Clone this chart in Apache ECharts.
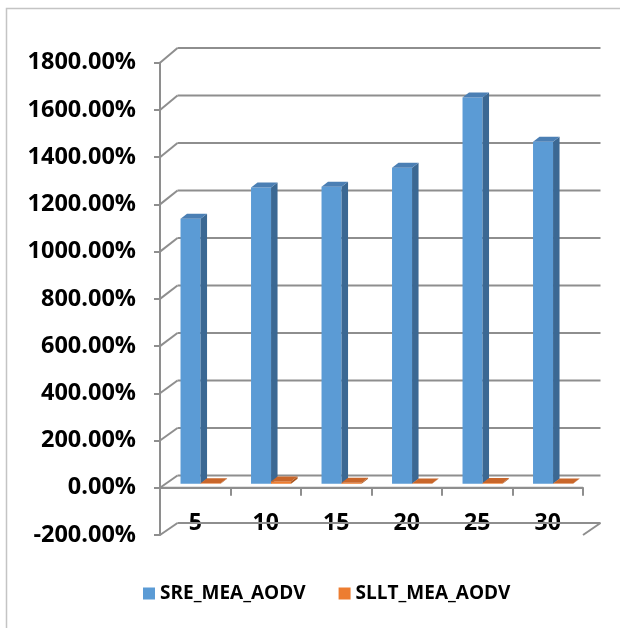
<!DOCTYPE html>
<html>
<head>
<meta charset="utf-8">
<script src="https://cdn.jsdelivr.net/npm/echarts@6/dist/echarts.min.js"></script>
<style>
  html, body { margin: 0; padding: 0; background: #ffffff; }
  #chart { width: 620px; height: 628px; }
</style>
</head>
<body>
<div id="chart"></div>
<script>
// Node counts on the category axis
const categories = ['5', '10', '15', '20', '25', '30'];
// Percentage values per series
const sreMeaAodv = [1122, 1255, 1258, 1338, 1636, 1448];
const slltMeaAodv = [2, 10, 4, 1, 3, 1];
// Value-axis ticks (percent)
const yTicks = [-200, 0, 200, 400, 600, 800, 1000, 1200, 1400, 1600, 1800];

const FONT = "'Open Sans', 'Liberation Sans', sans-serif";
const GRID_COLOR = '#8e8e8e';

// Depth offset of the back wall relative to the front plane
const DEPTH_X = 17.5;
function depthY(y, cs) {
  // slight perspective: the offset grows towards the top
  const t = (cs.y + cs.height - y) / cs.height;
  return 12 + 2.7 * t;
}

// Back-wall gridlines and the diagonal connectors at the left edge
function renderWall(params, api) {
  const cs = params.coordSys;
  const v = api.value(0);
  const y = api.coord([0, v])[1];
  const dy = depthY(y, cs);
  const x0 = cs.x, x1 = cs.x + cs.width;
  const style = { stroke: GRID_COLOR, lineWidth: 2, fill: null };
  const children = [
    { type: 'line', shape: { x1: x0 + DEPTH_X, y1: y - dy, x2: x1 + DEPTH_X, y2: y - dy }, style },
    { type: 'line', shape: { x1: x0, y1: y, x2: x0 + DEPTH_X, y2: y - dy }, style }
  ];
  if (v === 0) {
    children.push({ type: 'line', shape: { x1: x0, y1: y, x2: x1, y2: y }, style });
  }
  if (v === yTicks[0]) {
    children.push({ type: 'line', shape: { x1: x1, y1: y, x2: x1 + DEPTH_X, y2: y - dy }, style });
  }
  return { type: 'group', children };
}

// Category boundary ticks hanging from the front floor edge
function renderFloorTicks(params, api) {
  const idx = api.value(0);
  const c = api.coord([idx, 0]);
  const band = api.size([1, 0])[0];
  const x = Math.round(c[0] + band / 2);
  return {
    type: 'line',
    shape: { x1: x, y1: c[1], x2: x, y2: c[1] + 8 },
    style: { stroke: GRID_COLOR, lineWidth: 2 }
  };
}

// 3D-looking column: front face, right side face and top face
function makeBarRenderer(slot, colors) {
  return function (params, api) {
    const idx = api.value(0);
    const v = api.value(1);
    const base = api.coord([idx, 0]);
    const topPt = api.coord([idx, v]);
    const band = api.size([1, 0])[0];
    const w = band * 0.284;
    const shiftX = 5.3, shiftY = 4;
    const sideX = 6.5, sideY = 5;
    const left = base[0] + shiftX - w + slot * w;
    const right = left + w;
    const yb = base[1] - shiftY;
    const yt = Math.min(topPt[1] - shiftY, yb - 0.01);
    return {
      type: 'group',
      children: [
        { type: 'polygon', shape: { points: [[left, yb], [right, yb], [right, yt], [left, yt]] },
          style: { fill: colors.front } },
        { type: 'polygon', shape: { points: [[right, yb], [right + sideX, yb - sideY], [right + sideX, yt - sideY], [right, yt]] },
          style: { fill: colors.side } },
        { type: 'polygon', shape: { points: [[left, yt], [right, yt], [right + sideX, yt - sideY], [left + sideX, yt - sideY]] },
          style: { fill: colors.top } }
      ]
    };
  };
}

const blue = { front: '#5b9bd5', side: '#3b6893', top: '#4b7fb4' };
const orange = { front: '#ed7d31', side: '#a9541c', top: '#c9662a' };

const chart = echarts.init(document.getElementById('chart'), null, { renderer: 'canvas' });
chart.setOption({
  backgroundColor: '#ffffff',
  animation: false,
  graphic: [{
    type: 'rect',
    shape: { x: 6.5, y: 8.5, width: 800, height: 800 },
    style: { fill: null, stroke: '#c4c4c4', lineWidth: 1.5 },
    silent: true
  }],
  grid: { left: 160, right: 37, top: 62.7, bottom: 93, containLabel: false },
  legend: {
    left: 143,
    top: 584,
    padding: 0,
    icon: 'rect',
    itemWidth: 12,
    itemHeight: 12,
    itemGap: 33,
    textStyle: { fontFamily: FONT, fontSize: 19, fontWeight: 'bold', color: '#000000' },
    data: ['SRE_MEA_AODV', 'SLLT_MEA_AODV']
  },
  xAxis: {
    type: 'category',
    data: categories,
    boundaryGap: true,
    axisLine: { show: true, lineStyle: { color: GRID_COLOR, width: 2 } },
    axisTick: { show: false },
    axisLabel: {
      margin: -12,
      verticalAlign: 'middle',
      fontFamily: FONT, fontSize: 23, fontWeight: 'bold', color: '#000000'
    },
    splitLine: { show: false }
  },
  yAxis: {
    type: 'value',
    min: -200,
    max: 1800,
    interval: 200,
    axisLine: { show: true, lineStyle: { color: GRID_COLOR, width: 2 } },
    axisTick: { show: true, length: 6, lineStyle: { color: GRID_COLOR, width: 2 } },
    axisLabel: {
      margin: 24,
      formatter: v => v.toFixed(2) + '%',
      fontFamily: FONT, fontSize: 23.5, fontWeight: 'bold', color: '#000000'
    },
    splitLine: { show: false }
  },
  series: [
    {
      name: 'wall',
      type: 'custom',
      silent: true,
      z: 1,
      renderItem: renderWall,
      encode: { y: 0 },
      data: yTicks.map(v => [v])
    },
    {
      name: 'floorTicks',
      type: 'custom',
      silent: true,
      z: 1,
      renderItem: renderFloorTicks,
      encode: { x: 0 },
      data: categories.map((c, i) => [i])
    },
    {
      name: 'SRE_MEA_AODV',
      type: 'custom',
      z: 3,
      itemStyle: { color: blue.front },
      renderItem: makeBarRenderer(0, blue),
      encode: { x: 0, y: 1 },
      data: sreMeaAodv.map((v, i) => [i, v])
    },
    {
      name: 'SLLT_MEA_AODV',
      type: 'custom',
      z: 4,
      itemStyle: { color: orange.front },
      renderItem: makeBarRenderer(1, orange),
      encode: { x: 0, y: 1 },
      data: slltMeaAodv.map((v, i) => [i, v])
    }
  ]
});
</script>
</body>
</html>
